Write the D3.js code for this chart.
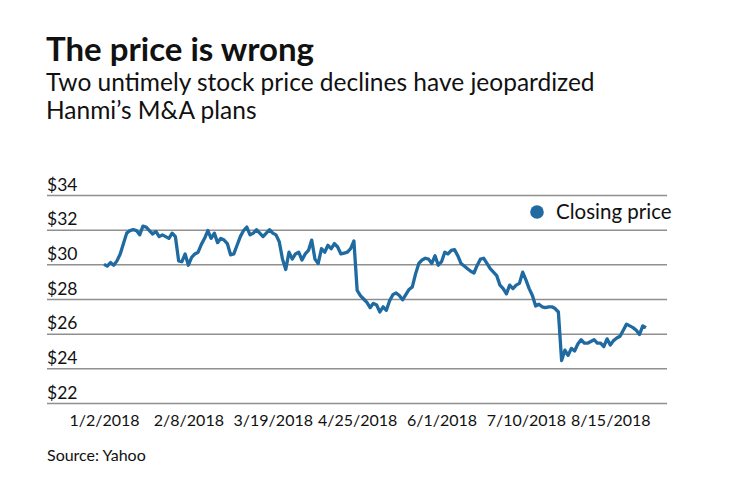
<!DOCTYPE html>
<html>
<head>
<meta charset="utf-8">
<script src="https://cdn.jsdelivr.net/npm/d3@7"></script>
<style>
	body { margin: 0; background: #fff; }
	svg { display: block; font-family: Lato, "Open Sans", sans-serif; }
</style>
</head>
<body>
<div id="chart"></div>
<script>
// closing prices, one per trading day from 1/2/2018
var closing = [
	30.0, 29.9, 30.1, 29.95, 30.2, 30.6, 31.2, 31.8, 31.95, 32.0,
	31.95, 31.7, 32.2, 32.15, 31.95, 31.75, 31.9, 31.6, 31.7, 31.6,
	31.5, 31.8, 31.6, 30.2, 30.15, 30.6, 29.95,
	30.4, 30.6, 30.7, 31.15, 31.5, 31.95, 31.5, 31.8, 31.25, 31.5,
	31.4, 31.2, 30.55, 30.6, 31.1, 31.6, 31.95, 32.15, 31.7, 31.8,
	32.0, 31.8, 31.6, 31.8, 32.0, 31.8, 31.7,
	31.3, 30.3, 29.7, 30.7, 30.3, 30.6, 30.7, 30.25, 30.6, 30.8,
	31.4, 30.3, 30.05, 30.9, 30.7, 31.1, 30.9, 31.2, 31.0, 30.6,
	30.65, 30.7, 30.9, 31.35,
	28.5, 28.2, 28.0, 27.8, 27.5, 27.75, 27.65, 27.25, 27.55, 27.35,
	27.9, 28.25, 28.35, 28.2, 27.95, 28.25, 28.55, 28.7, 29.45, 30.05,
	30.25, 30.35, 30.3, 30.05, 30.5, 29.95, 30.15, 30.7, 30.6,
	30.8, 30.85, 30.5, 30.05, 29.9, 29.75, 29.6, 29.5, 29.95, 30.3,
	30.35, 30.05, 29.75, 29.55, 29.35, 28.8, 28.6, 28.3, 28.8, 28.6,
	28.8, 28.9, 29.55, 29.1, 28.6, 28.2, 27.6, 27.7, 27.55,
	27.5, 27.55, 27.55, 27.45, 27.25, 24.45, 25.05, 24.75, 25.15, 25.0,
	25.4, 25.65, 25.45, 25.45, 25.55, 25.65, 25.45, 25.45, 25.25, 25.7,
	25.35, 25.6, 25.75, 25.85, 26.2, 26.55, 26.45, 26.35, 26.2, 25.95,
	26.45, 26.35
];

// x labels and the trading day they sit on
var tickLabels = ["1/2/2018", "2/8/2018", "3/19/2018", "4/25/2018", "6/1/2018", "7/10/2018", "8/15/2018"];
var tickIndex = [0, 26, 52, 78, 104, 130, 156];

// y ticks
var yTicks = [22, 24, 26, 28, 30, 32, 34];

var width = 740, height = 482;
var lineColor = "#1f6aa1";
var fontStack = "Lato, 'Open Sans', sans-serif";

var svg = d3.select("#chart").append("svg")
	.attr("width", width)
	.attr("height", height);

// scales
var x = d3.scaleLinear()
	.domain([0, closing.length - 1])
	.range([104, 646]);

var y = d3.scaleLinear()
	.domain([22, 34])
	.range([403, 195]);

// title block
svg.append("text")
	.attr("x", 46)
	.attr("y", 61)
	.attr("font-size", 33)
	.attr("font-weight", "bold")
	.attr("fill", "#111")
	.text("The price is wrong");

var sub = svg.append("text")
	.attr("x", 46)
	.attr("y", 91)
	.attr("font-size", 24.5)
	.attr("fill", "#111");
sub.append("tspan").attr("x", 46).text("Two untimely stock price declines have jeopardized");
sub.append("tspan").attr("x", 46).attr("dy", 27.5).text("Hanmi\u2019s M&A plans");

// grid lines + dollar labels, labels sit above each line
var yAxis = svg.append("g")
	.attr("transform", "translate(47,0)")
	.call(d3.axisRight(y)
		.tickValues(yTicks)
		.tickSize(620)
		.tickFormat(function(d) { return "$" + d; }));

yAxis.select(".domain").remove();
yAxis.selectAll(".tick line")
	.attr("stroke", "#8f8f8f")
	.attr("stroke-width", 1.5);
yAxis.selectAll(".tick text")
	.attr("x", 0)
	.attr("dy", -5)
	.attr("text-anchor", "start")
	.attr("font-size", 17.5)
	.attr("font-family", fontStack)
	.attr("fill", "#111");

// x labels
var xAxis = svg.append("g")
	.attr("transform", "translate(0,403)")
	.call(d3.axisBottom(x)
		.tickValues(tickIndex)
		.tickSize(0)
		.tickFormat(function(d, i) { return tickLabels[i]; }));

xAxis.select(".domain").remove();
xAxis.selectAll(".tick text")
	.attr("y", 12)
	.attr("font-size", 16)
	.attr("font-family", fontStack)
	.attr("fill", "#111");

// price line
var line = d3.line()
	.x(function(d, i) { return x(i); })
	.y(function(d) { return y(d); });

svg.append("path")
	.datum(closing)
	.attr("fill", "none")
	.attr("stroke", lineColor)
	.attr("stroke-width", 3.3)
	.attr("stroke-linejoin", "round")
	.attr("d", line);

// legend
svg.append("circle")
	.attr("cx", 537)
	.attr("cy", 212)
	.attr("r", 6.8)
	.attr("fill", lineColor);

svg.append("text")
	.attr("x", 556)
	.attr("y", 219)
	.attr("font-size", 20.5)
	.attr("fill", "#111")
	.text("Closing price");

// source
svg.append("text")
	.attr("x", 47)
	.attr("y", 461)
	.attr("font-size", 16)
	.attr("fill", "#111")
	.text("Source: Yahoo");
</script>
</body>
</html>
